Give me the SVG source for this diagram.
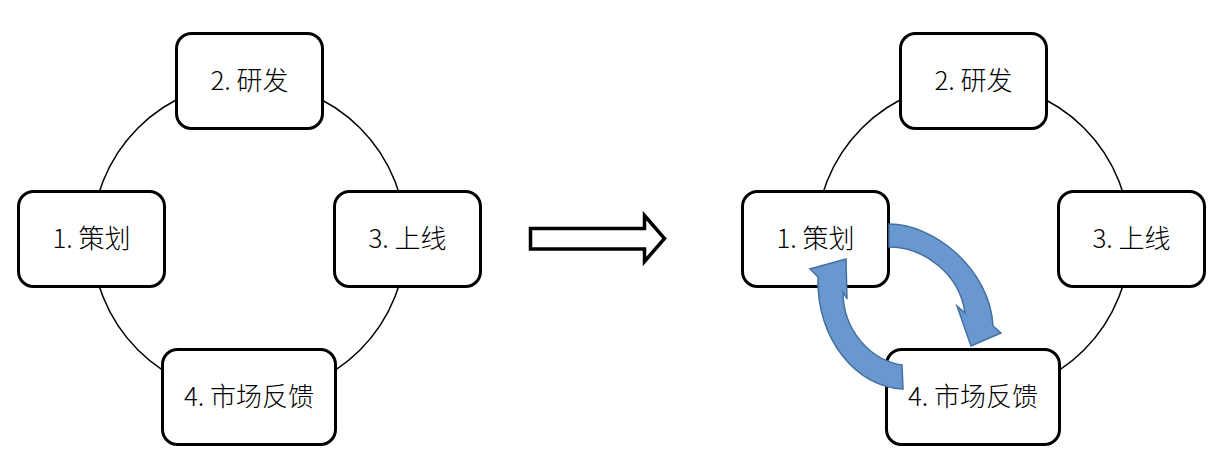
<svg xmlns="http://www.w3.org/2000/svg" width="1232" height="460" viewBox="0 0 1232 460">
<style>
.box{fill:#fff;stroke:#000;stroke-width:3}
.ring{fill:none;stroke:#000;stroke-width:1.5}
.lbl{font-family:"Noto Sans CJK SC","Liberation Sans",sans-serif;font-size:26px;font-weight:300;fill:#000;text-anchor:middle}
.cyc{fill:#6898cf;stroke:#44709f;stroke-width:1.5;stroke-linejoin:miter}
</style>
<rect width="1232" height="460" fill="#fff"/>
<g id="connectors">
<circle class="ring" cx="249" cy="239" r="157"/>
<circle class="ring" cx="973" cy="239" r="157"/>
<path id="transform-arrow" d="M530.5,228.5 H644.5 V215.5 L664.5,238.5 L644.5,261.5 V249 H530.5 Z" fill="#fff" stroke="#000" stroke-width="3.5"/>
</g>
<g id="left-n1"><rect class="box" x="18.5" y="191.5" width="146" height="95" rx="15"/><text class="lbl" x="91.5" y="248">1. 策划</text></g>
<g id="left-n2"><rect class="box" x="176.5" y="33.5" width="146" height="95" rx="15"/><text class="lbl" x="249.5" y="90">2. 研发</text></g>
<g id="left-n3"><rect class="box" x="334.5" y="191.5" width="146" height="95" rx="15"/><text class="lbl" x="407.5" y="248">3. 上线</text></g>
<g id="left-n4"><rect class="box" x="162.5" y="349.5" width="173" height="95" rx="15"/><text class="lbl" x="249" y="406">4. 市场反馈</text></g>
<g id="right-n1"><rect class="box" x="742.5" y="191.5" width="146" height="95" rx="15"/><text class="lbl" x="815.5" y="248">1. 策划</text></g>
<g id="right-n2"><rect class="box" x="900.5" y="33.5" width="146" height="95" rx="15"/><text class="lbl" x="973.5" y="90">2. 研发</text></g>
<g id="right-n3"><rect class="box" x="1058.5" y="191.5" width="146" height="95" rx="15"/><text class="lbl" x="1131.5" y="248">3. 上线</text></g>
<g id="right-n4"><rect class="box" x="886.5" y="349.5" width="173" height="95" rx="15"/><text class="lbl" x="973" y="406">4. 市场反馈</text></g>
<g id="cycle-arrows">
<path class="cyc" d="M889,224 C935,224 990,270 993,326 L1001,333 L971,346 L957,306 L965,313 C960,275 925,247 889,247 Z"/>
<path class="cyc" d="M903,389 C858,388 816,340 818,277 L810,269 L846,259 L847,299 L843,292 C843,330 870,360 902,365 Z"/>
</g>
</svg>
